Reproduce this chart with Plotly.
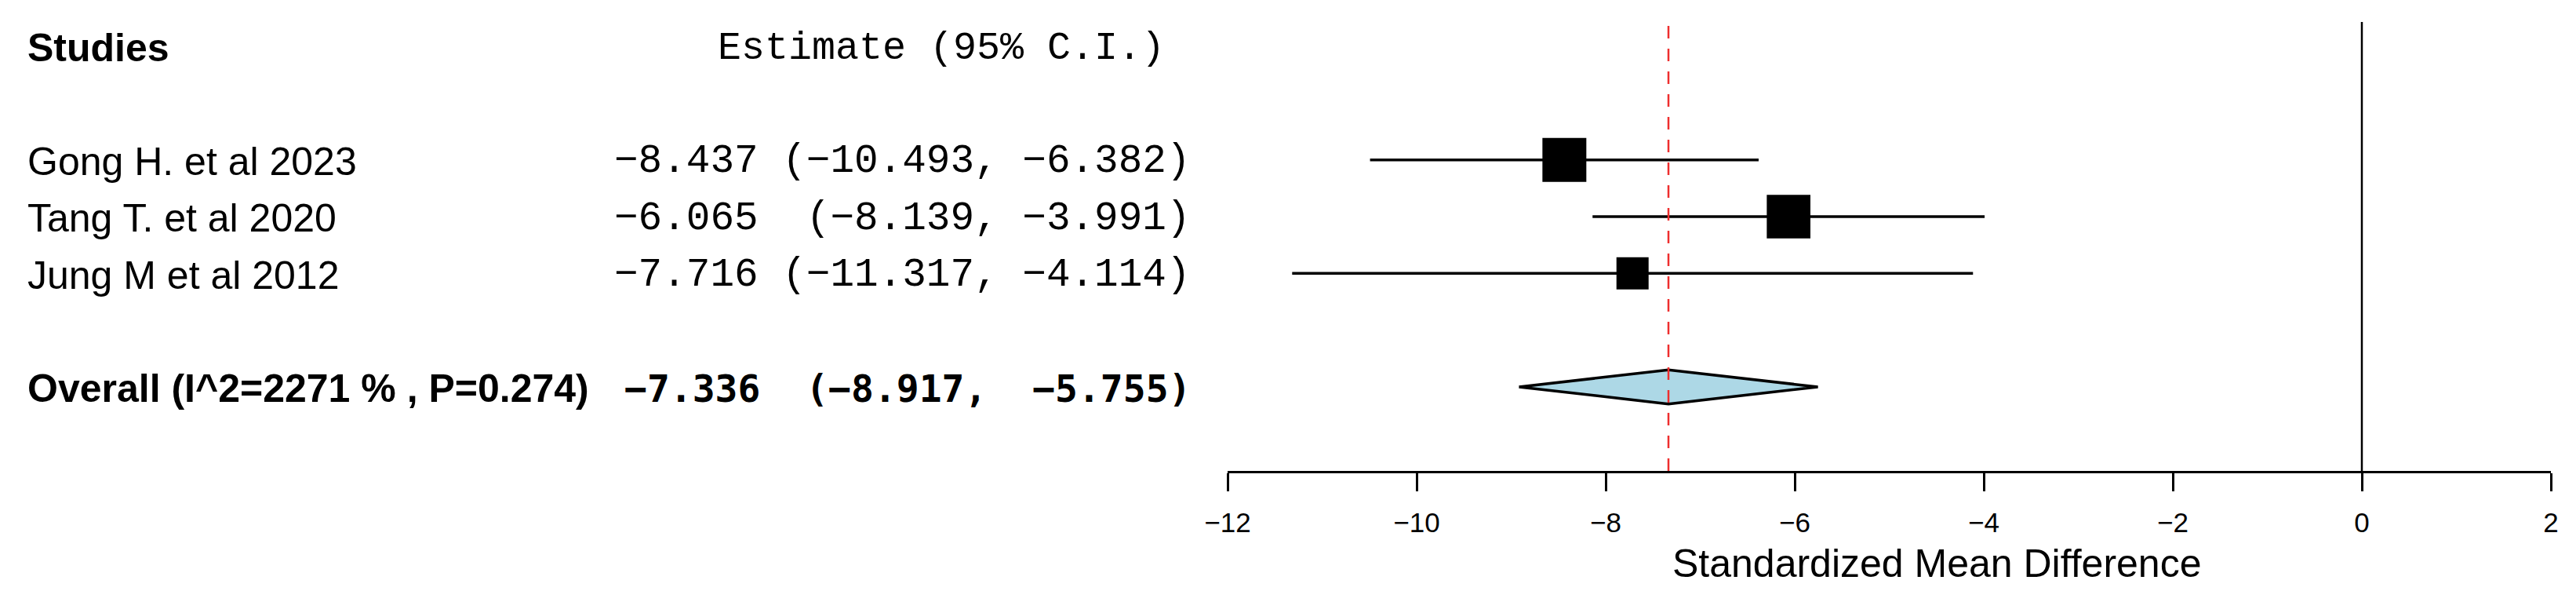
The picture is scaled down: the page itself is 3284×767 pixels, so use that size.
import plotly.graph_objects as go

# ---------------- data ----------------
studies = ["Gong H. et al 2023", "Tang T. et al 2020", "Jung M et al 2012"]
estimates = [-8.437, -6.065, -7.716]
ci_low = [-10.493, -8.139, -11.317]
ci_high = [-6.382, -3.991, -4.114]
weights = [41.8, 41.2, 17.0]          # relative study weights (%)
est_labels = ["\u22128.437 (\u221210.493, \u22126.382)",
              "\u22126.065  (\u22128.139, \u22123.991)",
              "\u22127.716 (\u221211.317, \u22124.114)"]
overall_est = -7.336
overall_low = -8.917
overall_high = -5.755
overall_label = "Overall (I^2=2271 % , P=0.274)"
overall_est_label = "\u22127.336  (\u22128.917,  \u22125.755)"
x_ticks = [-12, -10, -8, -6, -4, -2, 0, 2]
x_title = "Standardized Mean Difference"
header_left = "Studies"
header_right = "Estimate (95% C.I.)"

# ---------------- layout helpers ----------------
OFF = 8                    # page body margin offset
W, H = 3284 - OFF, 767 - OFF
PL, PR = 1565 - OFF, 3252 - OFF     # plot area left/right px (figure coords)
PT, PB = 28 - OFF, 600 - OFF        # plot area top/bottom px
row_y = [5, 4, 3]
overall_y = 1
header_y = 7
y_range = [-0.48, 7.43]
TDY = -0.03                # small text baseline nudge

def px2paper(px):
    """page px -> paper x"""
    return (px - OFF - PL) / (PR - PL)

def py2paper(py):
    """page px -> paper y"""
    return (PB - (py - OFF)) / (PB - PT)

SANS = "Liberation Sans, Arial, sans-serif"
MONO = "Liberation Mono, Courier New, monospace"
MONOB = "DejaVu Sans Mono, monospace"

fig = go.Figure()

# CI lines
for lo, hi, y in zip(ci_low, ci_high, row_y):
    fig.add_trace(go.Scatter(x=[lo, hi], y=[y, y], mode="lines",
                             line=dict(color="black", width=3.5),
                             showlegend=False, hoverinfo="skip"))
# squares sized by weight
sizes = [30.7 + 0.605 * w for w in weights]
fig.add_trace(go.Scatter(x=estimates, y=row_y, mode="markers",
                         marker=dict(symbol="square", color="#000000", size=sizes,
                                     opacity=1, line=dict(width=0)),
                         showlegend=False, hoverinfo="skip"))
# overall diamond
fig.add_trace(go.Scatter(
    x=[overall_low, overall_est, overall_high, overall_est, overall_low],
    y=[overall_y, overall_y + 0.3, overall_y, overall_y - 0.3, overall_y],
    mode="lines", fill="toself", fillcolor="#ADD8E6",
    line=dict(color="black", width=3.5), showlegend=False, hoverinfo="skip"))

# reference lines
fig.add_shape(type="line", xref="x", yref="paper", x0=0, x1=0, y0=0, y1=1,
              line=dict(color="black", width=2.5), layer="below")
fig.add_shape(type="line", xref="x", yref="paper", x0=overall_est, x1=overall_est,
              y0=0, y1=1, line=dict(color="#EE2E2E", width=2.5, dash="16px,13px"),
              layer="above")

ann = []
left_px = 33
ann.append(dict(x=px2paper(left_px), y=header_y + TDY, text="<b>%s</b>" % header_left,
                font=dict(family=SANS, size=50, color="black")))
for name, y in zip(studies, row_y):
    ann.append(dict(x=px2paper(left_px), y=y + TDY, text=name,
                    font=dict(family=SANS, size=50, color="black")))
ann.append(dict(x=px2paper(left_px), y=overall_y + TDY, text="<b>%s</b>" % overall_label,
                font=dict(family=SANS, size=50, color="black")))
for a in ann:
    a.update(xref="paper", yref="y", xanchor="left", yanchor="middle",
             showarrow=False)
# estimate column
right_px = 1520
ann.append(dict(x=px2paper(1487), y=header_y + TDY, text=header_right, xref="paper",
                yref="y", xanchor="right", yanchor="middle", showarrow=False,
                font=dict(family=MONO, size=50, color="black")))
for lab, y in zip(est_labels, row_y):
    ann.append(dict(x=px2paper(right_px), y=y + TDY, text=lab, xref="paper", yref="y",
                    xanchor="right", yanchor="middle", showarrow=False,
                    font=dict(family=MONO, size=51, color="black")))
ann.append(dict(x=px2paper(right_px), y=overall_y + TDY,
                text="<b>%s</b>" % overall_est_label,
                xref="paper", yref="y", xanchor="right", yanchor="middle",
                showarrow=False, font=dict(family=MONOB, size=48, color="black")))
# x-axis title
ann.append(dict(x=px2paper(2469), y=py2paper(718), text=x_title, xref="paper",
                yref="paper", xanchor="center", yanchor="middle", showarrow=False,
                font=dict(family=SANS, size=50, color="black")))

fig.update_layout(
    width=W, height=H,
    margin=dict(l=PL, r=W - PR, t=PT, b=H - PB, pad=0),
    paper_bgcolor="white", plot_bgcolor="white",
    showlegend=False,
    annotations=ann,
    xaxis=dict(range=[x_ticks[0], x_ticks[-1]], tickvals=x_ticks,
               ticktext=[("\u2212%d" % -t) if t < 0 else str(t) for t in x_ticks],
               ticks="outside", ticklen=23, tickwidth=3, tickcolor="black",
               ticklabelstandoff=10,
               showline=True, linewidth=3, linecolor="black",
               showgrid=False, zeroline=False,
               tickfont=dict(family=SANS, size=35, color="black")),
    yaxis=dict(range=y_range, visible=False, showgrid=False, zeroline=False),
)

fig.write_html("out.html")
